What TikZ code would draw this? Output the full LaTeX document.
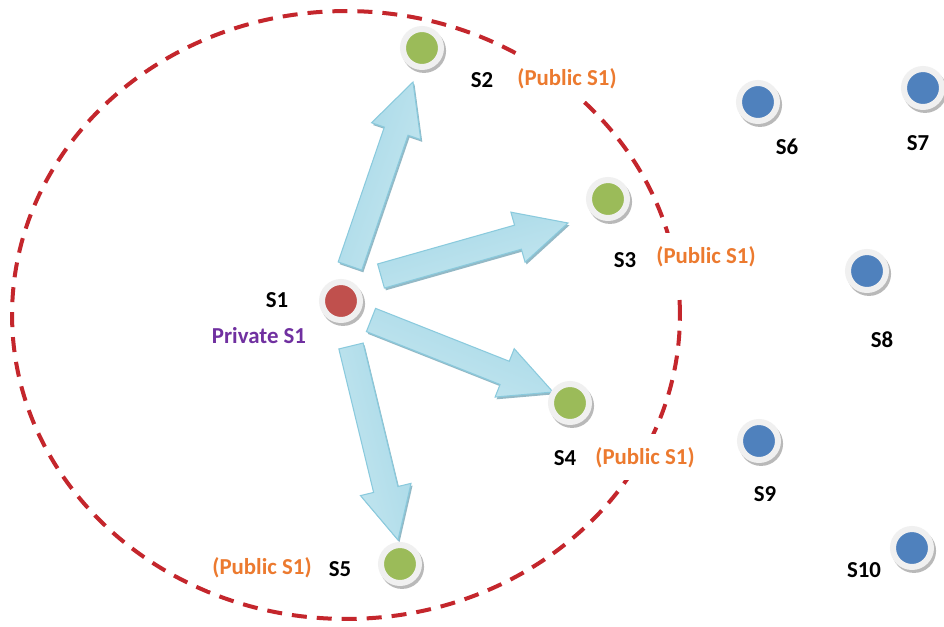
\documentclass[tikz,border=0pt]{standalone}
\usepackage{fontspec}
\setmainfont{Carlito}
\usetikzlibrary{calc,shadows}

\definecolor{ringred}{HTML}{C4262C}
\definecolor{stred}{HTML}{C0504D}
\definecolor{stgreen}{HTML}{9BBB59}
\definecolor{stblue}{HTML}{4F81BD}
\definecolor{pubor}{HTML}{EC7A2F}
\definecolor{privpu}{HTML}{7030A0}
\definecolor{arrlight}{HTML}{E8F5F9}
\definecolor{arrmid}{HTML}{C6E7F0}
\definecolor{arrdark}{HTML}{A6D8E7}
\definecolor{arredge}{HTML}{8ACADD}
\definecolor{arrshade}{HTML}{93B9C6}

\tikzset{
  station/.style={circle, minimum size=0.76cm, inner sep=0pt, fill=#1,
    draw=white!94!black, line width=0.12cm,
    general shadow={fill=gray!55, shadow scale=1.16,
      shadow xshift=0.035cm, shadow yshift=-0.05cm}},
  lab/.style={font=\fontsize{13}{15}\selectfont\bfseries, inner sep=0pt, anchor=base},
  pub/.style={lab, text=pubor, fill=white, inner xsep=0.08cm, inner ysep=0.26cm},
  coverage/.style={draw=ringred, line width=0.08cm, dash pattern=on 0.3cm off 0.2cm},
  arrowbody/.style={top color=arrdark, middle color=arrlight, bottom color=arrmid,
    draw=arredge, line width=0.6pt},
  arrowback/.style={fill=arrshade},
}

% block arrow from tail #1 to tip #2, shading turned by #3
\newcommand\blockarrow[3]{%
  \coordinate (ba-base) at ($(#2)!1.04cm!(#1)$);
  \coordinate (ba-tl) at ($(#1)!0.25cm!90:(#2)$);
  \coordinate (ba-tr) at ($(#1)!0.25cm!-90:(#2)$);
  \coordinate (ba-bl) at ($(ba-base)!0.25cm!90:(#2)$);
  \coordinate (ba-br) at ($(ba-base)!0.25cm!-90:(#2)$);
  \coordinate (ba-wl) at ($(ba-base)!0.52cm!90:(#2)$);
  \coordinate (ba-wr) at ($(ba-base)!0.52cm!-90:(#2)$);
  \fill[arrowback, transform canvas={shift={(0.03cm,-0.045cm)}}]
    (ba-tl) -- (ba-bl) -- (ba-wl) -- (#2) -- (ba-wr) -- (ba-br) -- (ba-tr) -- cycle;
  \shadedraw[arrowbody, shading angle=#3]
    (ba-tl) -- (ba-bl) -- (ba-wl) -- (#2) -- (ba-wr) -- (ba-br) -- (ba-tr) -- cycle;
}

\begin{document}
\begin{tikzpicture}[x=0.02cm, y=-0.02cm]
  \useasboundingbox (0,0) rectangle (944,626);
  \fill[white] (0,0) rectangle (944,626);

  % transmission range of S1
  \draw[coverage] (346,315) ellipse [x radius=6.68cm, y radius=6.08cm];

  % labels
  \node[lab] (l1) at (277,307) {S1};
  \node[lab, text=privpu] (q1) at (259,343) {Private S1};
  \node[lab] (l2) at (482,87) {S2};
  \node[pub] (p2) at (567,85) {(Public S1)};
  \node[lab] (l3) at (625,267) {S3};
  \node[pub, text depth=0.36cm] (p3) at (706,263) {(Public S1)};
  \node[lab] (l4) at (565,465) {S4};
  \node[pub] (p4) at (645,464) {(Public S1)};
  \node[lab] (l5) at (340,576) {S5};
  \node[pub] (p5) at (262,574) {(Public S1)};
  \node[lab] (l6) at (787,154) {S6};
  \node[lab] (l7) at (918,150) {S7};
  \node[lab] (l8) at (882,347) {S8};
  \node[lab] (l9) at (765,501) {S9};
  \node[lab] (l10) at (864,577) {S10};

  % arrow ends
  \coordinate (a1t) at (350,266); \coordinate (a1h) at (413,82);
  \coordinate (a2t) at (381,276); \coordinate (a2h) at (568,223);
  \coordinate (a3t) at (371,320); \coordinate (a3h) at (553,392);
  \coordinate (a4t) at (351,346); \coordinate (a4h) at (398,540);

  \blockarrow{a1t}{a1h}{71}
  \blockarrow{a2t}{a2h}{16}
  \blockarrow{a3t}{a3h}{-22}
  \blockarrow{a4t}{a4h}{-76}

  % stations
  \node[station=stred] (s1) at (341,301) {};
  \node[station=stgreen] (s2) at (422,48) {};
  \node[station=stgreen] (s3) at (608,199) {};
  \node[station=stgreen] (s4) at (570,403) {};
  \node[station=stgreen] (s5) at (400,564) {};
  \node[station=stblue] (s6) at (758,102) {};
  \node[station=stblue] (s7) at (923,88) {};
  \node[station=stblue] (s8) at (867,271) {};
  \node[station=stblue] (s9) at (759,441) {};
  \node[station=stblue] (s10) at (912,548) {};
\end{tikzpicture}
\end{document}
